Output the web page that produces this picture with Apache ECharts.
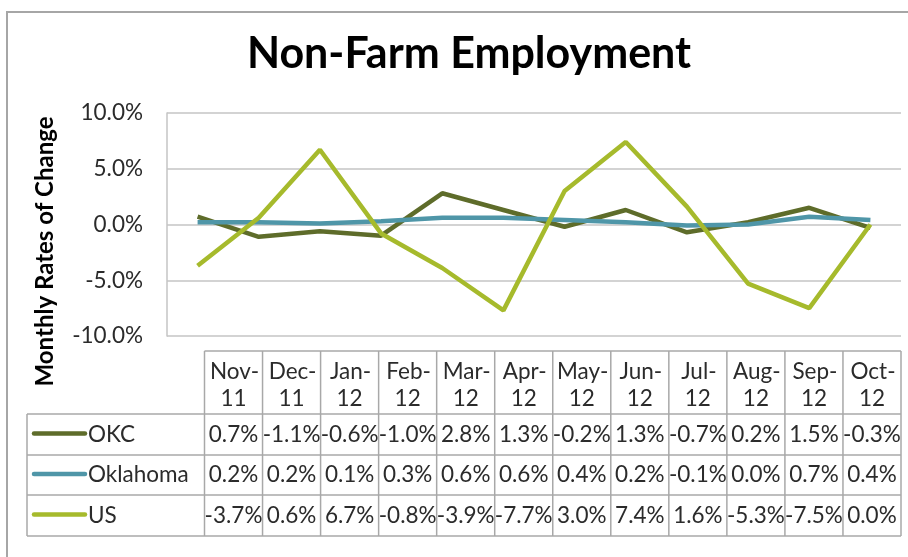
<!DOCTYPE html>
<html>
<head>
<meta charset="utf-8">
<script src="https://cdn.jsdelivr.net/npm/echarts@6/dist/echarts.min.js"></script>
<style>
  html, body { margin: 0; padding: 0; background: #ffffff; }
  #chart { width: 908px; height: 557px; }
</style>
</head>
<body>
<div id="chart"></div>
<script>
// Monthly rates of change in non-farm employment, Nov 2011 - Oct 2012
const months = ['Nov-11', 'Dec-11', 'Jan-12', 'Feb-12', 'Mar-12', 'Apr-12',
                'May-12', 'Jun-12', 'Jul-12', 'Aug-12', 'Sep-12', 'Oct-12'];
const okc      = [0.7, -1.1, -0.6, -1.0, 2.8, 1.3, -0.2, 1.3, -0.7, 0.2, 1.5, -0.3];
const oklahoma = [0.2, 0.2, 0.1, 0.3, 0.6, 0.6, 0.4, 0.2, -0.1, 0.0, 0.7, 0.4];
const us       = [-3.7, 0.6, 6.7, -0.8, -3.9, -7.7, 3.0, 7.4, 1.6, -5.3, -7.5, 0.0];
const yTicks   = [-10, -5, 0, 5, 10];

const seriesList = [
  { name: 'OKC', data: okc, color: '#5e6c2a' },
  { name: 'Oklahoma', data: oklahoma, color: '#4f96a8' },
  { name: 'US', data: us, color: '#a6ba2c' }
];

const FONT = 'Lato, "Open Sans", sans-serif';
const TEXT = '#2b2b2b';
const GRID = '#c4c4c4';
const TABLE_LINE = '#a8a8a8';

const chart = echarts.init(document.getElementById('chart'));

// data table layout (below the plot)
const tbl = {
  labelLeft: 27, colLeft: 204.5, colRight: 901,
  headTop: 351, headBottom: 414, rowBottoms: [455, 495, 536]
};
const colW = (tbl.colRight - tbl.colLeft) / months.length;
const fmt = v => v.toFixed(1) + '%';

function buildTable() {
  const els = [];
  const line = (x1, y1, x2, y2) => els.push({
    type: 'line', silent: true,
    shape: { x1, y1, x2, y2 },
    style: { stroke: TABLE_LINE, lineWidth: 1.5 }
  });
  const text = (str, x, y, align) => els.push({
    type: 'text', silent: true, x, y,
    style: { text: str, fill: TEXT, font: '22.5px ' + FONT, align: align || 'center', verticalAlign: 'middle' }
  });

  // header row: month names split over two lines
  line(tbl.colLeft, tbl.headTop, tbl.colRight, tbl.headTop);
  months.forEach((m, i) => {
    const cx = tbl.colLeft + colW * (i + 0.5);
    const parts = m.split('-');
    text(parts[0] + '-', cx + 1, 372);
    text(parts[1], cx, 399);
  });
  // horizontal row lines
  line(tbl.labelLeft, tbl.headBottom, tbl.colRight, tbl.headBottom);
  tbl.rowBottoms.forEach(y => line(tbl.labelLeft, y, tbl.colRight, y));
  // vertical lines
  line(tbl.labelLeft, tbl.headBottom, tbl.labelLeft, tbl.rowBottoms[2]);
  for (let i = 0; i <= months.length; i++) {
    const x = tbl.colLeft + colW * i;
    line(x, tbl.headTop, x, tbl.rowBottoms[2]);
  }
  // series rows: legend key + values
  let top = tbl.headBottom;
  seriesList.forEach((s, r) => {
    const bottom = tbl.rowBottoms[r];
    const cy = (top + bottom) / 2;
    els.push({
      type: 'line', silent: true,
      shape: { x1: 34, y1: cy - 1, x2: 85, y2: cy - 1 },
      style: { stroke: s.color, lineWidth: 4.5, lineCap: 'round' }
    });
    text(s.name, 88, cy, 'left');
    s.data.forEach((v, i) => {
      text(fmt(v), tbl.colLeft + colW * (i + 0.5), cy);
    });
    top = bottom;
  });
  return els;
}

const option = {
  backgroundColor: '#ffffff',
  animation: false,
  title: {
    text: 'Non-Farm Employment',
    left: 464, top: 28, textAlign: 'center',
    textStyle: { fontFamily: FONT, fontWeight: 'bold', fontSize: 43, color: '#000000' }
  },
  grid: { left: 167, right: 7, top: 113, bottom: 221, containLabel: false },
  xAxis: {
    type: 'category', data: months, boundaryGap: true,
    axisLine: { show: false }, axisTick: { show: false }, axisLabel: { show: false }
  },
  yAxis: {
    type: 'value', min: yTicks[0], max: yTicks[yTicks.length - 1], interval: 5,
    name: 'Monthly Rates of Change', nameLocation: 'middle', nameRotate: 90, nameGap: 110,
    nameTextStyle: {
      fontFamily: FONT, fontWeight: 'bold', fontSize: 24, color: '#000000',
      padding: [0, 54, 0, 0]
    },
    axisLine: { show: true, lineStyle: { color: GRID, width: 1.5 } },
    axisTick: { show: false },
    axisLabel: { formatter: v => v.toFixed(1) + '%', fontFamily: FONT, fontSize: 22.5, color: TEXT, margin: 24 },
    splitLine: { show: true, lineStyle: { color: GRID, width: 1.5 } }
  },
  series: seriesList.map(s => ({
    name: s.name, type: 'line', data: s.data, showSymbol: false, symbol: 'none',
    lineStyle: { color: s.color, width: 4.5 }, itemStyle: { color: s.color }
  })),
  graphic: [
    {
      type: 'rect', silent: true, z: -1,
      shape: { x: 7, y: 12, width: 940, height: 600 },
      style: { fill: 'none', stroke: '#a6a6a6', lineWidth: 2 }
    }
  ].concat(buildTable())
};

chart.setOption(option);
</script>
</body>
</html>
